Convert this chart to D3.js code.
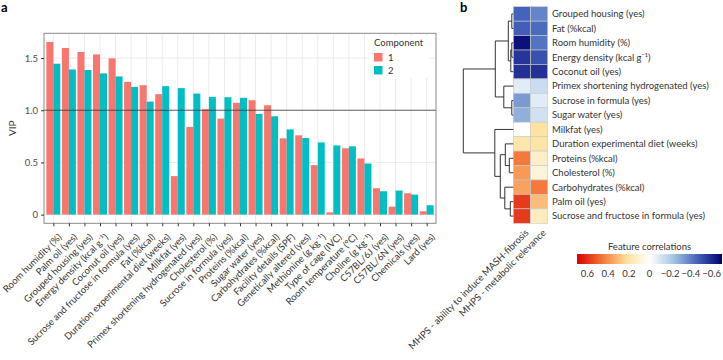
<!DOCTYPE html>
<html>
<head>
<meta charset="utf-8">
<script src="https://cdn.jsdelivr.net/npm/d3@7"></script>
<style>
    body { margin: 0; background: #fff; }
    svg text { font-family: Lato, "Open Sans", sans-serif; }
</style>
</head>
<body>
<svg id="chart" width="723" height="360"></svg>
<script>

// ---- panel a data (VIP per feature) ----
const vipFeatures = [
    "Room humidity (%)", "Palm oil (yes)", "Grouped housing (yes)", "Energy density (kcal g\u207B\u00B9)",
    "Coconut oil (yes)", "Sucrose and fructose in formula (yes)", "Fat (%kcal)",
    "Duration experimental diet (weeks)", "Milkfat (yes)", "Primex shortening hydrogenated (yes)",
    "Cholesterol (%)", "Sucrose in formula (yes)", "Proteins (%kcal)", "Sugar water (yes)",
    "Carbohydrates (%kcal)", "Facility details (SPF)", "Genetically altered (yes)",
    "Methionine (g kg\u207B\u00B9)", "Type of cage (IVC)", "Room temperature (\u00B0C)",
    "Choline (g kg\u207B\u00B9)", "C57BL/6J (yes)", "C57BL/6N (yes)", "Chemicals (yes)", "Lard (yes)"
];
const vipComp1 = [1.654, 1.596, 1.558, 1.535, 1.497, 1.272, 1.240, 1.154, 0.369, 0.840,
    1.010, 0.920, 1.071, 1.096, 1.048, 0.731, 0.760, 0.474, 0.022, 0.635,
    0.538, 0.253, 0.077, 0.205, 0.032];
const vipComp2 = [1.446, 1.391, 1.385, 1.353, 1.324, 1.224, 1.083, 1.231, 1.212, 1.160,
    1.128, 1.125, 1.119, 0.965, 0.942, 0.817, 0.734, 0.692, 0.663, 0.654,
    0.490, 0.224, 0.231, 0.192, 0.090];
const components = ["1", "2"];
const componentColors = ["#F8766D", "#00BFC4"];
const vipTicks = [0, 0.5, 1.0, 1.5];

// ---- panel b data (feature correlations) ----
const heatRows = [
    "Grouped housing (yes)", "Fat (%kcal)", "Room humidity (%)", "Energy density (kcal g\u207B\u00B9)",
    "Coconut oil (yes)", "Primex shortening hydrogenated (yes)", "Sucrose in formula (yes)",
    "Sugar water (yes)", "Milkfat (yes)", "Duration experimental diet (weeks)", "Proteins (%kcal)",
    "Cholesterol (%)", "Carbohydrates (%kcal)", "Palm oil (yes)", "Sucrose and fructose in formula (yes)"
];
const heatCols = ["MHPS - ability to induce MASH-fibrosis", "MHPS - metabolic relevance"];
const corrMash = [-0.46, -0.47, -0.66, -0.57, -0.58, -0.08, -0.33, -0.28,
    0.0, 0.18, 0.45, 0.38, 0.36, 0.58, 0.58];
const corrMetab = [-0.38, -0.44, -0.42, -0.50, -0.58, -0.14, -0.08, -0.12,
    0.20, 0.20, 0.12, 0.08, 0.45, 0.30, 0.14];
const corrTicks = [0.6, 0.4, 0.2, 0, -0.2, -0.4, -0.6];

// row clustering: [height, left, right], leaves are row indices
const dendroTree = [1.0,
    [0.36, [0.10, [0.03, 0, 1], [0.05, [0.03, 2, 3], 4]], [0.19, 5, [0.03, 6, 7]]],
    [0.37, 8, [0.26, [0.16, 9, [0.08, 10, 11]], [0.17, 12, [0.06, 13, 14]]]]
];

const svg = d3.select("#chart");

class VipChart {

    constructor(svg) {
        this.svg = svg;
        this.data = vipFeatures.map((f, i) => ({ feature: f, values: [vipComp1[i], vipComp2[i]] }));
        this.initVis();
    }

    initVis() {
        let vis = this;

        vis.left = 44; vis.right = 436; vis.top = 33.3; vis.bottom = 223.3;

        vis.x = d3.scalePoint().domain(vipFeatures).range([vis.left, vis.right]).padding(0.6);
        vis.step = vis.x.step();
        vis.xInner = d3.scaleBand().domain(components).range([-0.45 * vis.step, 0.45 * vis.step]);
        vis.y = d3.scaleLinear().domain([-0.083, 1.737]).range([vis.bottom, vis.top]);

        let g = vis.svg.append("g").attr("class", "vip");

        // grid
        g.selectAll(".vgrid").data(vipFeatures).join("line")
            .attr("x1", d => vis.x(d)).attr("x2", d => vis.x(d))
            .attr("y1", vis.top).attr("y2", vis.bottom)
            .attr("stroke", "#ebebeb").attr("stroke-width", 1);
        g.selectAll(".hgrid").data(vipTicks).join("line")
            .attr("x1", vis.left).attr("x2", vis.right)
            .attr("y1", d => vis.y(d)).attr("y2", d => vis.y(d))
            .attr("stroke", "#ebebeb").attr("stroke-width", 1);

        // legend box sits on top of grid
        let lg = g.append("g").attr("transform", "translate(369,36)");
        lg.append("rect").attr("width", 60).attr("height", 42).attr("fill", "#fff");
        lg.append("text").attr("x", 5).attr("y", 10).attr("font-size", 9.5).attr("fill", "#333").text("Component");
        components.forEach((c, i) => {
            lg.append("rect").attr("x", 5).attr("y", 17 + i * 13).attr("width", 8.5).attr("height", 8.5)
                .attr("fill", componentColors[i]);
            lg.append("text").attr("x", 19).attr("y", 25 + i * 13).attr("font-size", 9.5)
                .attr("fill", "#333").text(c);
        });

        // bars
        g.selectAll(".grp").data(vis.data).join("g")
            .attr("transform", d => `translate(${vis.x(d.feature)},0)`)
            .selectAll("rect").data(d => d.values.map((v, i) => ({ comp: components[i], v: v, i: i })))
            .join("rect")
            .attr("x", d => vis.xInner(d.comp))
            .attr("width", vis.xInner.bandwidth())
            .attr("y", d => vis.y(d.v))
            .attr("height", d => vis.y(0) - vis.y(d.v))
            .attr("fill", d => componentColors[d.i]);

        // reference line at VIP = 1
        g.append("line")
            .attr("x1", vis.left).attr("x2", vis.right)
            .attr("y1", vis.y(1)).attr("y2", vis.y(1))
            .attr("stroke", "#333").attr("stroke-opacity", 0.75).attr("stroke-width", 1);

        // panel border
        g.append("rect")
            .attr("x", vis.left).attr("y", vis.top)
            .attr("width", vis.right - vis.left).attr("height", vis.bottom - vis.top)
            .attr("fill", "none").attr("stroke", "#8a8a8a").attr("stroke-width", 1);

        // axes
        let xAxis = d3.axisBottom(vis.x).tickSize(3).tickFormat("");
        let xg = g.append("g").attr("transform", `translate(0,${vis.bottom})`).call(xAxis);
        xg.select(".domain").remove();
        xg.selectAll("line").attr("stroke", "#333");

        g.selectAll(".xlab").data(vipFeatures).join("text")
            .attr("transform", d => `translate(${vis.x(d) + 6.5},${vis.bottom + 12}) rotate(-45)`)
            .attr("text-anchor", "end")
            .attr("dy", "0.35em")
            .attr("font-size", 9.5)
            .attr("fill", "#333")
            .text(d => d);

        let yAxis = d3.axisLeft(vis.y).tickValues(vipTicks).tickSize(3)
            .tickFormat(d => d === 0 ? "0" : d.toFixed(1));
        let yg = g.append("g").attr("transform", `translate(${vis.left},0)`).call(yAxis);
        yg.select(".domain").remove();
        yg.selectAll("line").attr("stroke", "#333");
        yg.selectAll("text").attr("font-size", 9.5).attr("fill", "#4d4d4d")
            .style("font-family", "Lato, sans-serif");

        g.append("text")
            .attr("transform", `translate(16,${(vis.top + vis.bottom) / 2}) rotate(-90)`)
            .attr("text-anchor", "middle")
            .attr("font-size", 10).attr("fill", "#333")
            .text("VIP");

        vis.svg.append("text").attr("x", 1).attr("y", 12)
            .attr("font-size", 13).attr("font-weight", "bold").text("a");
    }
}

class CorrHeatmap {

    constructor(svg) {
        this.svg = svg;
        this.initVis();
    }

    initVis() {
        let vis = this;

        vis.color = d3.scaleLinear()
            .domain([0.7, 0.45, 0.22, 0, -0.22, -0.45, -0.7])
            .range(["#d60000", "#f5793a", "#fde19a", "#ffffff", "#a9cae6", "#4767bd", "#00006e"]);

        vis.row = d3.scaleBand().domain(heatRows).range([6.7, 223.3]);
        vis.col = d3.scaleBand().domain(heatCols).range([513.3, 547.7]);

        let g = vis.svg.append("g").attr("class", "heat");

        let cells = [];
        heatRows.forEach((r, i) => {
            cells.push({ row: r, col: heatCols[0], v: corrMash[i] });
            cells.push({ row: r, col: heatCols[1], v: corrMetab[i] });
        });

        g.selectAll(".cell").data(cells).join("rect")
            .attr("x", d => vis.col(d.col))
            .attr("y", d => vis.row(d.row))
            .attr("width", vis.col.bandwidth())
            .attr("height", vis.row.bandwidth())
            .attr("fill", d => vis.color(d.v))
            .attr("stroke", "#c8c8c8")
            .attr("stroke-width", 0.6);

        g.selectAll(".rlab").data(heatRows).join("text")
            .attr("x", 552)
            .attr("y", d => vis.row(d) + vis.row.bandwidth() / 2)
            .attr("dy", "0.35em")
            .attr("font-size", 9.5).attr("fill", "#333")
            .text(d => d);

        g.selectAll(".clab").data(heatCols).join("text")
            .attr("transform", d => `translate(${vis.col(d) + vis.col.bandwidth() / 2 + 5},231) rotate(-45)`)
            .attr("text-anchor", "end")
            .attr("dy", "0.35em")
            .attr("font-size", 9.5).attr("fill", "#333")
            .text(d => d);

        vis.drawDendrogram(g);
        vis.drawLegend(g);

        vis.svg.append("text").attr("x", 460).attr("y", 12)
            .attr("font-size", 13).attr("font-weight", "bold").text("b");
    }

    drawDendrogram(g) {
        let vis = this;
        let hx = d3.scaleLinear().domain([0, 1]).range([513.3, 463.3]);
        let lines = [];

        // returns [x, y] of the node
        function walk(node) {
            if (typeof node === "number") {
                return [hx(0), vis.row(heatRows[node]) + vis.row.bandwidth() / 2];
            }
            let a = walk(node[1]);
            let b = walk(node[2]);
            let x = hx(node[0]);
            lines.push([[a[0], a[1]], [x, a[1]], [x, b[1]], [b[0], b[1]]]);
            return [x, (a[1] + b[1]) / 2];
        }
        walk(dendroTree);

        g.selectAll(".dendro").data(lines).join("path")
            .attr("d", d3.line())
            .attr("fill", "none")
            .attr("stroke", "#333")
            .attr("stroke-width", 1);
    }

    drawLegend(g) {
        let vis = this;
        let lx = d3.scaleLinear().domain([0.7, -0.7]).range([577, 722]);

        let grad = vis.svg.append("defs").append("linearGradient")
            .attr("id", "corrGrad").attr("x1", "0%").attr("x2", "100%");
        d3.range(0, 1.0001, 0.05).forEach(t => {
            grad.append("stop")
                .attr("offset", `${t * 100}%`)
                .attr("stop-color", vis.color(lx.invert(577 + t * 145)));
        });

        g.append("text").attr("x", (lx(0.7) + lx(-0.7)) / 2).attr("y", 250)
            .attr("text-anchor", "middle").attr("font-size", 9.5).attr("fill", "#333")
            .text("Feature correlations");

        g.append("rect").attr("x", lx(0.7)).attr("y", 254)
            .attr("width", lx(-0.7) - lx(0.7)).attr("height", 10)
            .attr("fill", "url(#corrGrad)");

        g.selectAll(".ltick").data(corrTicks).join("text")
            .attr("x", d => lx(d))
            .attr("y", 277)
            .attr("text-anchor", "middle")
            .attr("font-size", 9.5).attr("fill", "#333")
            .text(d => d === 0 ? "0" : (d < 0 ? "\u2212" + Math.abs(d) : String(d)));
    }
}

new VipChart(svg);
new CorrHeatmap(svg);

</script>
</body>
</html>
